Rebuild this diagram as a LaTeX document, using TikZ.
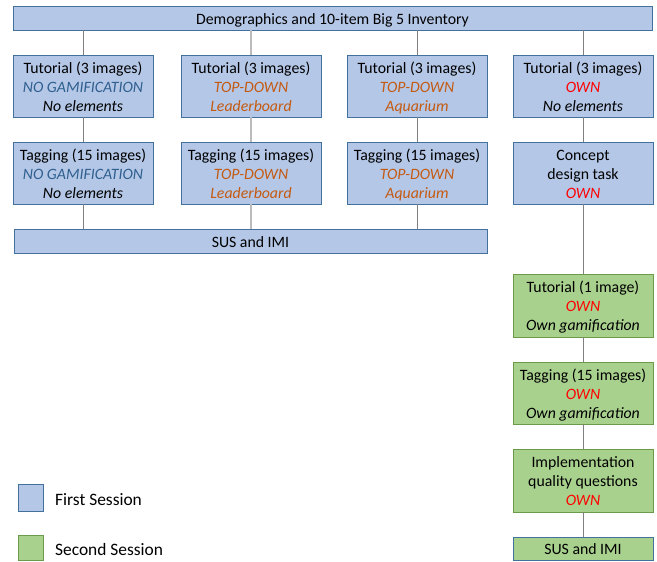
\documentclass[tikz,border=0pt]{standalone}
\usepackage{fontspec}
\setmainfont{Carlito}
\definecolor{bfill}{HTML}{B4C7E7}
\definecolor{bdraw}{HTML}{41719C}
\definecolor{gfill}{HTML}{A9D18E}
\definecolor{gdraw}{HTML}{6A9A4A}
\definecolor{tblue}{HTML}{2F5F8F}
\definecolor{torange}{HTML}{C55A11}
\definecolor{tred}{HTML}{FF0000}
\definecolor{lgray}{HTML}{808080}
\definecolor{llgray}{HTML}{BBBBBB}
\newcommand\mystrut{\rule[-3.5pt]{0pt}{19pt}}
\begin{document}
\begin{tikzpicture}[x=1pt,y=-1pt,
  every node/.style={font=\fontsize{15.8}{19}\selectfont, inner sep=0pt, align=center},
  bluebox/.style={draw=bdraw, fill=bfill, line width=0.9pt, minimum width=140pt, minimum height=62pt},
  greenbox/.style={draw=gdraw, fill=gfill, line width=0.9pt, minimum width=140pt, minimum height=62pt},
  legtext/.style={anchor=west, font=\fontsize{17.4}{20}\selectfont},
  conn/.style={draw=lgray, line width=0.8pt},
  connl/.style={draw=llgray, line width=1.4pt}]
\useasboundingbox (0,0) rectangle (657,562);
\node[bluebox, minimum width=639pt, minimum height=24pt] (top) at (332.5,18) {\mystrut Demographics and 10-item Big 5 Inventory};
\node[bluebox] (t1) at (83,86) {\mystrut Tutorial (3 images)\\\textit{\color{tblue}NO GAMIFICATION}\\\textit{No elements}\mystrut};
\node[bluebox] (t2) at (251,86) {\mystrut Tutorial (3 images)\\\textit{\color{torange}TOP-DOWN}\\\textit{\color{torange}Leaderboard}\mystrut};
\node[bluebox] (t3) at (417,86) {\mystrut Tutorial (3 images)\\\textit{\color{torange}TOP-DOWN}\\\textit{\color{torange}Aquarium}\mystrut};
\node[bluebox] (t4) at (583,86) {\mystrut Tutorial (3 images)\\\textit{\color{tred}OWN}\\\textit{No elements}\mystrut};
\node[bluebox] (g1) at (83,173) {\mystrut Tagging (15 images)\\\textit{\color{tblue}NO GAMIFICATION}\\\textit{No elements}\mystrut};
\node[bluebox] (g2) at (251,173) {\mystrut Tagging (15 images)\\\textit{\color{torange}TOP-DOWN}\\\textit{\color{torange}Leaderboard}\mystrut};
\node[bluebox] (g3) at (417,173) {\mystrut Tagging (15 images)\\\textit{\color{torange}TOP-DOWN}\\\textit{\color{torange}Aquarium}\mystrut};
\node[bluebox] (g4) at (583,173) {\mystrut Concept\\design task\\\textit{\color{tred}OWN}\mystrut};
\node[bluebox, minimum width=473pt, minimum height=24pt] (sus1) at (250.5,241) {\mystrut SUS and IMI};
\node[greenbox, minimum height=63pt] (gt) at (583,305.5) {\mystrut Tutorial (1 image)\\\textit{\color{tred}OWN}\\\textit{Own gamification}\mystrut};
\node[greenbox] (gg) at (583,393) {\mystrut Tagging (15 images)\\\textit{\color{tred}OWN}\\\textit{Own gamification}\mystrut};
\node[greenbox, minimum height=63pt] (gi) at (583,480.5) {\mystrut Implementation\\quality questions\\\textit{\color{tred}OWN}\mystrut};
\node[greenbox, draw=bdraw, minimum height=23pt] (sus2) at (583,548.5) {\mystrut SUS and IMI};
\node[bluebox, minimum width=25pt, minimum height=27pt] (lq1) at (30.5,497.5) {};
\node[greenbox, minimum width=25pt, minimum height=25pt] (lq2) at (30.5,547.5) {};
\node[legtext] (l1) at (55,499) {\mystrut First Session};
\node[legtext] (l2) at (55,549.5) {\mystrut Second Session};
\draw[conn] (top.south -| t1) -- (t1.north);
\draw[connl] (top.south -| t2) -- (t2.north);
\draw[conn] (top.south -| t3) -- (t3.north);
\draw[conn] (top.south -| t4) -- (t4.north);
\draw[conn] (t1) -- (g1);
\draw[connl] (t2) -- (g2);
\draw[conn] (t3) -- (g3);
\draw[conn] (t4) -- (g4);
\draw[conn] (g1.south) -- (sus1.north -| g1);
\draw[connl] (g2.south) -- (sus1.north -| g2);
\draw[conn] (g3.south) -- (sus1.north -| g3);
\draw[conn] (g4) -- (gt);
\draw[conn] (gt) -- (gg);
\draw[conn] (gg) -- (gi);
\draw[conn] (gi) -- (sus2);
\end{tikzpicture}
\end{document}
